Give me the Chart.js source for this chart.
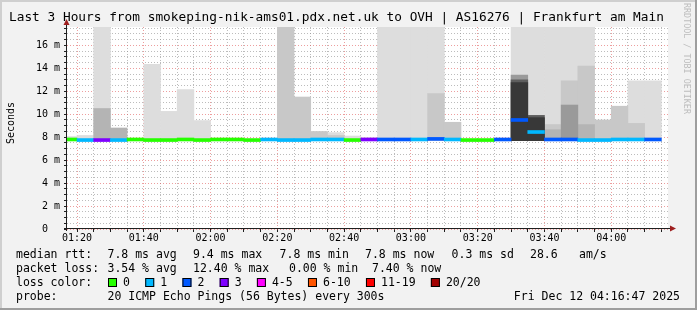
<!DOCTYPE html>
<html>
<head>
<meta charset="utf-8">
<script src="https://cdn.jsdelivr.net/npm/chart.js@4.4.1/dist/chart.umd.min.js"></script>
<style>
  html, body { margin: 0; padding: 0; background: #f2f2f2; }
  canvas { display: block; }
</style>
</head>
<body>
<canvas id="smokeChart" width="697" height="310"></canvas>
<script>
// 5 minute bins (start time of each bin)
const binTimes = ['01:15','01:20','01:25','01:30','01:35','01:40','01:45','01:50','01:55',
    '02:00','02:05','02:10','02:15','02:20','02:25','02:30','02:35','02:40','02:45',
    '02:50','02:55','03:00','03:05','03:10','03:15','03:20','03:25','03:30','03:35',
    '03:40','03:45','03:50','03:55','04:00','04:05','04:10'];

// median rtt in ms, and loss class (index into lossColors) per bin
const medianRtt = [7.8,7.75,7.75,7.75,7.8,7.75,7.75,7.8,7.75,
    7.8,7.8,7.75,7.8,7.75,7.75,7.8,7.8,7.75,7.8,
    7.8,7.8,7.8,7.85,7.8,7.75,7.75,7.8,9.5,8.45,
    7.8,7.8,7.75,7.75,7.8,7.8,7.8];
const lossClass = [0,1,3,1,0,0,0,0,0,
    0,0,0,1,1,1,1,1,0,3,
    2,2,1,2,1,0,0,2,2,1,
    2,2,1,1,1,1,2];

// smoke: upper rtt of each grey band (ms), lightest band first
const pingFloor = 7.7;
const smokeLight = [8.05,8.15,18,null,null,14.35,10.25,12.15,9.45,
    null,null,null,null,null,null,null,8.4,8.1,7.95,
    18,18,18,18,null,null,null,null,18,18,
    18,18,18,null,null,12.9,12.9];
const smokeMid = [null,null,null,null,null,null,null,null,null,
    null,null,null,null,18,11.5,8.5,8.15,null,null,
    null,null,null,11.8,9.3,null,null,null,null,null,
    9.1,12.9,14.2,9.5,10.7,9.2,null];
const smokeGrey = [null,null,10.5,8.8,null,null,null,null,null,
    null,null,null,null,null,null,null,null,null,null,
    null,null,null,null,null,null,null,null,null,null,
    8.65,null,9.1,null,null,null,null];
const smokeDim = [null,null,null,null,null,null,null,null,null,
    null,null,null,null,null,null,null,null,null,null,
    null,null,null,null,null,null,null,null,13.4,null,
    null,10.8,null,null,null,null,null];
const smokeDark = [null,null,null,null,null,null,null,null,null,
    null,null,null,null,null,null,null,null,null,null,
    null,null,null,null,null,null,null,null,13.0,9.9,
    null,null,null,null,null,null,null];
const smokeDarkest = [null,null,null,null,null,null,null,null,null,
    null,null,null,null,null,null,null,null,null,null,
    null,null,null,null,null,null,null,null,12.75,9.7,
    null,null,null,null,null,null,null];

const xLabels = ['01:20','01:40','02:00','02:20','02:40','03:00','03:20','03:40','04:00'];
const yLabels = [0,2,4,6,8,10,12,14,16];

const lossColors = ['#26ff00','#00b8ff','#0059ff','#7e00ff','#ff00ff','#ff5500','#ff0000','#a10000'];
const lossLabels = ['0','1','2','3','4-5','6-10','11-19','20/20'];

const titleText = 'Last 3 Hours from smokeping-nik-ams01.pdx.net.uk to OVH | AS16276 | Frankfurt am Main';
const rttStats = [['median rtt:',16],['7.8 ms avg',107.5],['9.4 ms max',193],['7.8 ms min',279.6],
    ['7.8 ms now',365],['0.3 ms sd',451.6],['28.6',530],['am/s',579]];
const lossStats = [['packet loss:',16],['3.54 % avg',107.5],['12.40 % max',193],['0.00 % min',289],['7.40 % now',372]];
const probeText = '20 ICMP Echo Pings (56 Bytes) every 300s';
const stampText = 'Fri Dec 12 04:16:47 2025';

const toMin = t => { const p = t.split(':').map(Number); return p[0] * 60 + p[1]; };
const binCenters = binTimes.map(t => toMin(t) + 2.5);
const xStart = 77, xEnd = 257;

function band(tops) {
    return tops.map((t, i) => t === null ? null : {x: binCenters[i], y: [pingFloor, t]}).filter(Boolean);
}

function smokeSet(tops, color, order) {
    return {data: band(tops), backgroundColor: color, order: order,
        grouped: false, barPercentage: 1, categoryPercentage: 1, borderWidth: 0};
}

const MONO = '"DejaVu Sans Mono", monospace';

const decor = {
    id: 'decor',
    beforeDraw(chart) {
        const ctx = chart.ctx, a = chart.chartArea;
        ctx.save();
        ctx.fillStyle = '#f2f2f2';
        ctx.fillRect(0, 0, chart.width, chart.height);
        ctx.fillStyle = '#cfcfcf';
        ctx.fillRect(0, 0, chart.width, 2);
        ctx.fillRect(0, 0, 2, chart.height);
        ctx.fillStyle = '#9e9e9e';
        ctx.fillRect(0, chart.height - 2, chart.width, 2);
        ctx.fillRect(chart.width - 2, 0, 2, chart.height);
        ctx.fillStyle = '#ffffff';
        ctx.fillRect(a.left, a.top, a.right - a.left, a.bottom - a.top);
        ctx.restore();
    },
    afterDraw(chart) {
        const ctx = chart.ctx, a = chart.chartArea;
        ctx.save();
        // axes
        ctx.strokeStyle = '#1f1f1f';
        ctx.lineWidth = 1;
        ctx.beginPath();
        ctx.moveTo(a.left - 0.5, a.bottom + 2);
        ctx.lineTo(a.left - 0.5, a.top - 4);
        ctx.moveTo(a.left - 3, a.bottom - 0.5);
        ctx.lineTo(a.right + 4, a.bottom - 0.5);
        ctx.stroke();
        ctx.fillStyle = '#9e1f1f';
        ctx.beginPath();
        ctx.moveTo(a.left - 0.5, a.top - 8);
        ctx.lineTo(a.left - 3.5, a.top - 2);
        ctx.lineTo(a.left + 2.5, a.top - 2);
        ctx.closePath();
        ctx.fill();
        ctx.beginPath();
        ctx.moveTo(a.right + 8, a.bottom - 0.5);
        ctx.lineTo(a.right + 2, a.bottom - 3.5);
        ctx.lineTo(a.right + 2, a.bottom + 2.5);
        ctx.closePath();
        ctx.fill();

        // title
        ctx.fillStyle = '#000';
        ctx.font = '12.8px ' + MONO;
        ctx.textBaseline = 'alphabetic';
        ctx.textAlign = 'left';
        ctx.fillText(titleText, 9, 21);

        // vertical label
        ctx.save();
        ctx.translate(11, (a.top + a.bottom) / 2 - 5);
        ctx.rotate(-Math.PI / 2);
        ctx.textAlign = 'center';
        ctx.textBaseline = 'middle';
        ctx.font = '10px ' + MONO;
        ctx.fillText('Seconds', 0, 0);
        ctx.restore();

        // watermark
        ctx.save();
        ctx.translate(686, 3);
        ctx.rotate(Math.PI / 2);
        ctx.fillStyle = '#bdbdbd';
        ctx.font = '8.4px ' + MONO;
        ctx.textBaseline = 'middle';
        ctx.fillText('RRDTOOL / TOBI OETIKER', 0, 0);
        ctx.restore();

        // legend
        ctx.font = '11.5px ' + MONO;
        ctx.fillStyle = '#000';
        rttStats.forEach(s => ctx.fillText(s[0], s[1], 258));
        lossStats.forEach(s => ctx.fillText(s[0], s[1], 272));
        ctx.fillText('loss color:', 16, 286);
        let x = 108;
        lossLabels.forEach((lbl, i) => {
            ctx.fillStyle = lossColors[i];
            ctx.fillRect(x, 278, 9, 9);
            ctx.strokeStyle = '#000';
            ctx.strokeRect(x + 0.5, 278.5, 8, 8);
            ctx.fillStyle = '#000';
            ctx.fillText(lbl, x + 15, 286);
            x += 15 + ctx.measureText(lbl).width + 15.3;
        });
        ctx.fillText('probe:', 16, 300);
        ctx.fillText(probeText, 107.5, 300);
        ctx.textAlign = 'right';
        ctx.fillText(stampText, 680, 300);
        ctx.restore();
    }
};

new Chart(document.getElementById('smokeChart'), {
    type: 'bar',
    data: {
        datasets: [
            smokeSet(smokeLight, '#dddddd', 7),
            smokeSet(smokeMid, '#c8c8c8', 6),
            smokeSet(smokeGrey, '#b4b4b4', 5),
            smokeSet(smokeDim, '#9a9a9a', 4),
            smokeSet(smokeDark, '#5e5e5e', 3),
            smokeSet(smokeDarkest, '#383838', 2),
            {
                data: medianRtt.map((m, i) => ({x: binCenters[i], y: [m - 0.13, m + 0.13]})),
                backgroundColor: lossClass.map(k => lossColors[k]),
                order: 1, grouped: false, barPercentage: 1, categoryPercentage: 1, borderWidth: 0
            }
        ]
    },
    options: {
        responsive: false,
        animation: false,
        devicePixelRatio: 1,
        layout: { padding: { left: 0, right: 29, top: 27, bottom: 61 } },
        plugins: { legend: { display: false }, tooltip: { enabled: false } },
        scales: {
            x: {
                type: 'linear',
                min: xStart,
                max: xEnd,
                offset: false,
                z: 1,
                afterFit: s => { s.height = 20; },
                afterBuildTicks: s => {
                    const t = [];
                    for (let v = 80; v < xEnd; v += 5) t.push({value: v});
                    s.ticks = t;
                },
                grid: {
                    offset: false,
                    tickLength: 3,
                    tickColor: '#1f1f1f',
                    color: c => (c.tick && c.tick.value % 20 === 0) ? 'rgba(222,79,79,0.55)' : 'rgba(143,143,143,0.6)'
                },
                border: { display: false, dash: [1, 2] },
                ticks: {
                    autoSkip: false,
                    maxRotation: 0,
                    padding: 0,
                    color: '#000',
                    font: { family: MONO, size: 10 },
                    callback: v => {
                        const i = xLabels.findIndex(l => toMin(l) === v);
                        return i >= 0 ? xLabels[i] : '';
                    }
                }
            },
            y: {
                type: 'linear',
                min: 0,
                max: 17.6,
                z: 1,
                afterFit: s => { s.width = 67; },
                afterBuildTicks: s => {
                    const t = [];
                    for (let v = 0; v < 17.6; v += 0.5) t.push({value: v});
                    s.ticks = t;
                },
                grid: {
                    tickLength: 3,
                    tickColor: '#1f1f1f',
                    color: c => (c.tick && c.tick.value % 2 === 0) ? 'rgba(222,79,79,0.55)' : 'rgba(143,143,143,0.6)'
                },
                border: { display: false, dash: [1, 2] },
                ticks: {
                    autoSkip: false,
                    padding: 4,
                    color: '#000',
                    font: { family: MONO, size: 10 },
                    callback: v => {
                        if (!yLabels.includes(v)) return '';
                        return v === 0 ? '0  ' : v + ' m';
                    }
                }
            }
        }
    },
    plugins: [decor]
});
</script>
</body>
</html>
